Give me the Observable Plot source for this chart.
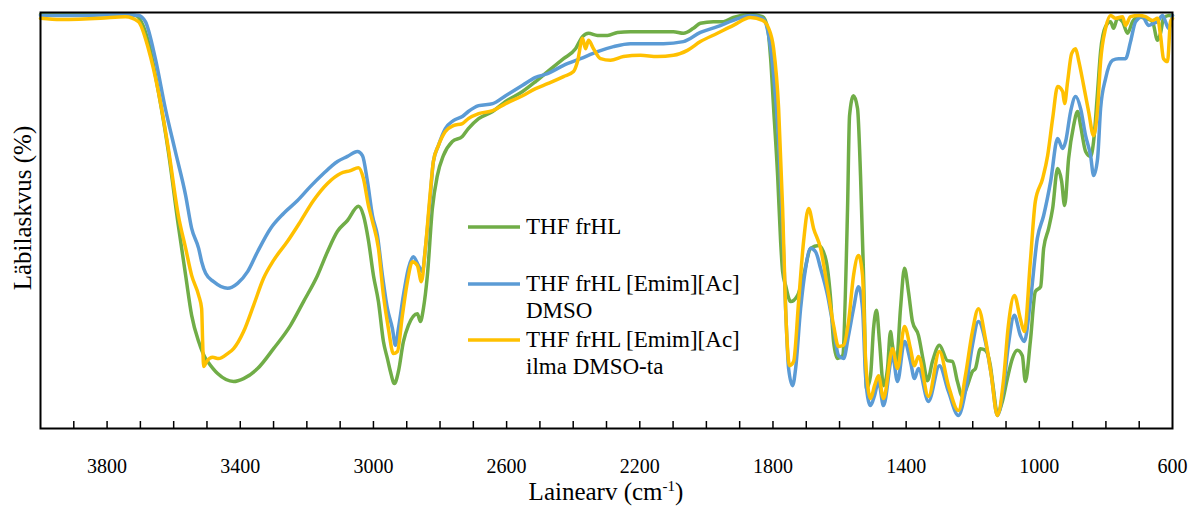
<!DOCTYPE html>
<html><head><meta charset="utf-8">
<script src="https://cdn.jsdelivr.net/npm/d3@7"></script>
<script src="https://cdn.jsdelivr.net/npm/@observablehq/plot@0.6"></script>
<style>
html,body{margin:0;padding:0;background:#fff;}
#chart{width:1191px;height:506px;}
</style></head><body><div id="chart"></div>
<script>
// THF frHL (green)
const greenWn = [4000,3880,3760,3715,3676,3646,3616,3586,3564,3546,3525,3504,3498,3468,3420,3390,3348,3300,3249,3210,3168,3138,3108,3078,3045,3030,3015,3000,2985,2970,2958,2949,2937,2925,2910,2895,2868,2859,2850,2838,2823,2808,2790,2763,2733,2715,2684,2642,2603,2552,2513,2477,2429,2393,2372,2354,2327,2297,2267,2228,2177,2129,2099,2069,2039,2018,1979,1949,1919,1868,1831,1816,1807,1798,1786,1777,1771,1762,1747,1726,1708,1687,1663,1642,1627,1618,1606,1591,1576,1570,1558,1546,1537,1528,1519,1507,1498,1489,1480,1468,1456,1447,1441,1429,1417,1405,1393,1381,1363,1348,1336,1321,1300,1276,1261,1246,1231,1216,1201,1192,1177,1162,1147,1138,1126,1111,1096,1081,1066,1051,1042,1027,1012,996,987,972,960,945,933,924,912,897,885,876,861,846,837,825,816,801,786,777,765,750,735,720,702,681,660,645,636,627,612,600];
const greenT = [99.5,99.5,99.5,99.3,93.0,81.0,66.6,48.8,36.8,27.2,20.9,16.8,16.1,13.2,11.3,12.0,14.4,19.2,24.8,30.5,36.8,42.5,47.4,50.0,53.4,51.2,45.2,36.8,30.5,20.9,16.8,13.7,10.8,13.7,20.9,24.8,27.6,25.7,28.8,36.8,52.9,60.8,65.6,69.0,70.2,72.1,74.5,76.2,78.6,81.0,83.4,85.8,88.9,91.3,94.2,95.0,94.5,94.5,95.2,95.4,95.4,95.4,95.4,95.0,96.2,97.4,97.8,97.8,98.8,99.5,99.0,96.2,88.9,76.9,60.8,45.0,37.7,34.4,30.5,32.0,36.8,43.3,44.0,40.9,31.3,20.9,16.8,17.5,52.9,75.2,80.0,76.9,60.8,36.8,9.6,12.7,24.0,28.4,20.9,10.3,14.4,23.3,20.0,16.1,28.8,38.5,32.9,25.7,22.4,16.1,11.5,16.1,20.0,16.3,16.1,11.3,7.7,10.3,13.7,14.4,19.2,18.8,15.1,9.6,3.6,6.5,12.0,16.8,18.8,17.5,11.3,20.9,32.9,34.1,43.3,48.1,52.9,62.5,59.4,53.6,64.9,72.8,76.2,72.8,66.6,65.4,69.0,81.0,90.6,96.6,97.8,96.2,98.6,97.8,95.0,97.8,99.0,98.6,97.8,93.3,95.0,98.6,99.3,99.3];

// THF frHL [Emim][Ac] DMSO (blue)
const blueWn = [4000,3880,3760,3706,3685,3655,3625,3595,3564,3546,3525,3516,3504,3480,3438,3408,3378,3348,3309,3270,3228,3189,3150,3108,3078,3048,3033,3018,3003,2988,2973,2958,2943,2934,2925,2910,2895,2880,2865,2853,2844,2829,2820,2805,2784,2760,2733,2715,2684,2642,2603,2552,2513,2477,2429,2378,2327,2279,2228,2177,2129,2069,2018,1967,1919,1868,1831,1813,1798,1783,1771,1762,1753,1741,1732,1717,1702,1687,1672,1657,1636,1618,1603,1588,1573,1558,1543,1531,1522,1513,1507,1495,1483,1468,1441,1426,1405,1387,1375,1363,1333,1300,1273,1243,1222,1201,1183,1162,1144,1126,1108,1093,1075,1057,1045,1027,1006,987,966,945,930,921,906,891,876,861,846,837,825,816,801,780,762,741,726,711,690,672,657,645,630,621,612,600];
const blueT = [99.3,99.3,99.5,99.3,97.8,88.9,76.9,66.6,56.0,48.1,43.3,40.1,37.3,35.3,33.7,34.9,37.7,42.5,48.1,51.7,54.8,58.2,61.3,64.2,65.4,66.6,65.6,59.4,51.2,46.4,36.8,28.8,24.0,20.0,24.0,32.0,38.5,41.3,39.2,37.7,43.3,56.0,64.2,68.0,72.1,74.0,75.0,76.2,77.6,78.1,80.0,82.5,84.4,85.3,87.3,88.9,90.6,91.8,92.5,92.5,92.5,93.0,95.2,96.6,98.1,99.3,98.6,94.5,84.9,69.0,48.8,28.8,14.4,10.3,14.4,28.8,38.5,43.3,42.5,38.5,32.0,24.0,17.5,16.8,22.4,28.8,34.1,28.8,12.7,6.5,5.5,7.9,11.3,5.5,17.5,11.3,20.9,16.1,12.0,14.4,6.5,15.1,8.9,3.1,8.9,20.0,25.7,20.9,12.7,3.1,9.6,20.0,27.2,22.4,20.9,30.5,45.7,51.2,59.4,69.7,67.3,69.0,76.2,79.8,76.9,70.4,65.6,60.8,64.9,76.9,84.1,88.5,88.9,88.9,93.0,97.8,99.0,96.9,97.4,97.8,99.3,97.8,96.2,99.3];

// THF frHL [Emim][Ac] ilma DMSO-ta (yellow)
const yellowWn = [4000,3940,3820,3745,3706,3676,3646,3616,3586,3564,3546,3525,3516,3513,3510,3501,3483,3465,3438,3420,3390,3360,3330,3300,3258,3219,3180,3138,3099,3069,3045,3030,3015,3003,2985,2970,2955,2940,2928,2913,2898,2883,2868,2856,2844,2829,2820,2805,2784,2760,2733,2715,2684,2642,2603,2552,2513,2477,2429,2399,2387,2372,2363,2354,2339,2318,2288,2249,2198,2147,2099,2057,2018,1967,1919,1868,1831,1813,1798,1783,1771,1762,1750,1738,1723,1708,1693,1678,1657,1636,1618,1603,1588,1573,1558,1543,1531,1522,1513,1507,1495,1483,1468,1441,1426,1405,1387,1375,1363,1333,1300,1273,1243,1222,1201,1183,1162,1144,1126,1108,1093,1075,1057,1045,1027,1012,990,975,960,945,930,924,915,903,891,882,867,852,837,825,816,801,786,771,750,741,726,702,681,660,645,636,627,615,606,600];
const yellowT = [98.6,98.3,98.6,99.0,97.8,91.3,81.0,67.3,51.2,43.3,36.8,32.0,28.8,20.9,14.9,16.1,17.1,16.8,18.0,19.2,23.3,29.6,36.1,40.4,45.0,49.8,54.8,58.9,61.3,62.0,62.7,60.1,53.6,49.8,43.3,32.0,24.0,18.0,18.5,27.2,35.3,40.1,39.2,35.3,43.3,57.0,64.2,68.0,71.4,72.8,73.3,74.5,75.7,76.4,78.1,80.0,81.7,82.9,84.6,85.8,88.2,93.8,91.3,93.3,91.3,88.9,88.5,89.4,89.7,89.4,89.7,90.9,93.0,95.0,96.9,98.8,98.1,96.2,91.3,76.9,52.9,28.8,15.1,16.1,30.5,45.0,52.9,48.1,43.3,33.7,24.8,19.7,20.0,25.7,36.8,41.6,36.8,16.8,8.9,7.2,10.3,12.7,7.2,19.2,14.4,24.5,19.2,15.1,17.3,7.7,18.5,10.3,4.3,12.7,23.3,28.8,21.6,12.7,3.1,11.3,24.8,32.0,26.4,23.3,40.1,54.6,60.1,65.6,74.5,82.2,81.0,78.1,83.4,90.1,91.3,88.5,82.5,76.2,70.4,76.9,88.2,96.2,99.3,98.6,99.0,96.9,99.0,99.3,99.0,98.1,98.6,94.5,88.9,88.2,97.8,98.6];

const seriesNames = ["THF frHL", "THF frHL [Emim][Ac] DMSO", "THF frHL [Emim][Ac] ilma DMSO-ta"];
const seriesColors = ["#70AD47", "#5B9BD5", "#FFC000"];
const xLabelTicks = [3800, 3400, 3000, 2600, 2200, 1800, 1400, 1000, 600];
const xMinorTicks = d3.range(700, 4000, 100);

const seriesData = [[greenWn, greenT], [blueWn, blueT], [yellowWn, yellowT]].map(([w, t], i) =>
  w.map((wn, j) => ({wn, t: t[j], series: seriesNames[i]})));

const font = "'Liberation Serif', 'Times New Roman', serif";

const plot = Plot.plot({
  width: 1191, height: 506,
  marginLeft: 40, marginRight: 19, marginTop: 12, marginBottom: 78,
  style: {fontFamily: font, background: "white", color: "black"},
  x: {domain: [4000, 600]},
  y: {domain: [0, 100], axis: null},
  marks: [
    ...seriesData.map((d, i) => Plot.line(d, {x: "wn", y: "t", stroke: seriesColors[i], strokeWidth: 3.5, curve: "monotone-x"})),
    Plot.frame({stroke: "black", strokeWidth: 2}),
    Plot.axisX({ticks: xMinorTicks, tickSize: -7, strokeWidth: 1.5, text: null, label: null}),
    Plot.axisX({ticks: xLabelTicks, tickSize: 0, tickPadding: 30, fontSize: 20, tickFormat: d => String(d), label: null})
  ]
});
document.getElementById("chart").appendChild(plot);

const svg = d3.select(plot);
// legend
const legendRows = [
  {lines: ["THF frHL"], y: 227},
  {lines: ["THF frHL [Emim][Ac]", "DMSO"], y: 284},
  {lines: ["THF frHL [Emim][Ac]", "ilma DMSO-ta"], y: 340}
];
const lg = svg.append("g").attr("font-family", font).attr("font-size", 23).attr("fill", "black").attr("text-anchor", "start");
legendRows.forEach((r, i) => {
  lg.append("line").attr("x1", 468).attr("x2", 520).attr("y1", r.y).attr("y2", r.y)
    .attr("stroke", seriesColors[i]).attr("stroke-width", 3.5);
  r.lines.forEach((s, k) => {
    lg.append("text").attr("x", 526).attr("y", r.y + 7 + k * 27).text(s);
  });
});
// axis titles
const xt = svg.append("text").attr("x", 606).attr("y", 500).attr("text-anchor", "middle")
  .attr("font-family", font).attr("font-size", 25).attr("fill", "black");
xt.append("tspan").text("Lainearv (cm");
xt.append("tspan").attr("dy", -9).attr("font-size", 15).text("-1");
xt.append("tspan").attr("dy", 9).text(")");
svg.append("text").attr("transform", "translate(31,208) rotate(-90)").attr("text-anchor", "middle")
  .attr("font-family", font).attr("font-size", 25).attr("fill", "black").text("Läbilaskvus (%)");
</script></body></html>
